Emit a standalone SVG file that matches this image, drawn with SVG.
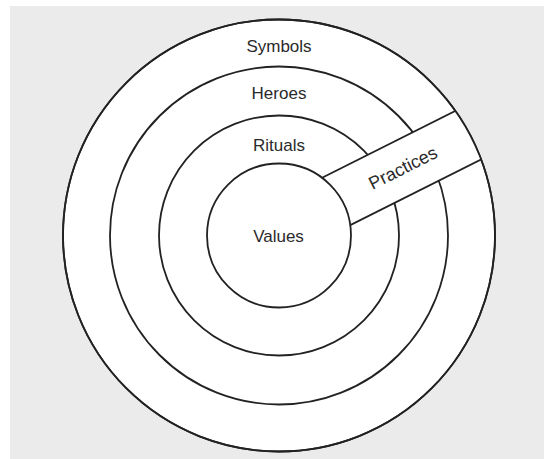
<svg xmlns="http://www.w3.org/2000/svg" width="544" height="459" viewBox="0 0 544 459">
  <style>
    .ring { fill: none; stroke: #222; stroke-width: 1.8; }
    .disc { fill: #fff; stroke: #222; stroke-width: 1.8; }
    .lbl { font-family: "Liberation Sans", Arial, sans-serif; font-size: 17px; fill: #2a2a2a; text-anchor: middle; }
  </style>
  <defs>
    <clipPath id="outerClip">
      <circle cx="279" cy="235.5" r="216"/>
    </clipPath>
  </defs>
  <rect x="0" y="0" width="544" height="459" fill="#ffffff"/>
  <rect x="10" y="6" width="534" height="453" fill="#ebebec"/>

  <g id="symbols">
    <circle class="disc" cx="279" cy="235.5" r="216"/>
    <text class="lbl" x="279" y="52">Symbols</text>
  </g>
  <g id="heroes">
    <circle class="ring" cx="279" cy="235.5" r="169"/>
    <text class="lbl" x="279" y="99">Heroes</text>
  </g>
  <g id="rituals">
    <circle class="ring" cx="279" cy="235.5" r="120"/>
    <text class="lbl" x="279" y="151">Rituals</text>
  </g>
  <g id="practices">
    <g clip-path="url(#outerClip)">
      <g transform="rotate(-26.65 279 235.5)">
        <rect x="310" y="203.2" width="240" height="55" fill="#fff"/>
        <line class="ring" x1="310" y1="203.2" x2="550" y2="203.2"/>
        <line class="ring" x1="310" y1="258.2" x2="550" y2="258.2"/>
      </g>
    </g>
    <text class="lbl" transform="translate(403 168) rotate(-26.65)" y="6" style="font-size:18px">Practices</text>
  </g>
  <g id="values">
    <circle class="disc" cx="279" cy="235.5" r="72"/>
    <text class="lbl" x="278.5" y="242">Values</text>
  </g>
  <g id="connectors">
    <circle class="ring" cx="279" cy="235.5" r="216"/>
  </g>
</svg>
